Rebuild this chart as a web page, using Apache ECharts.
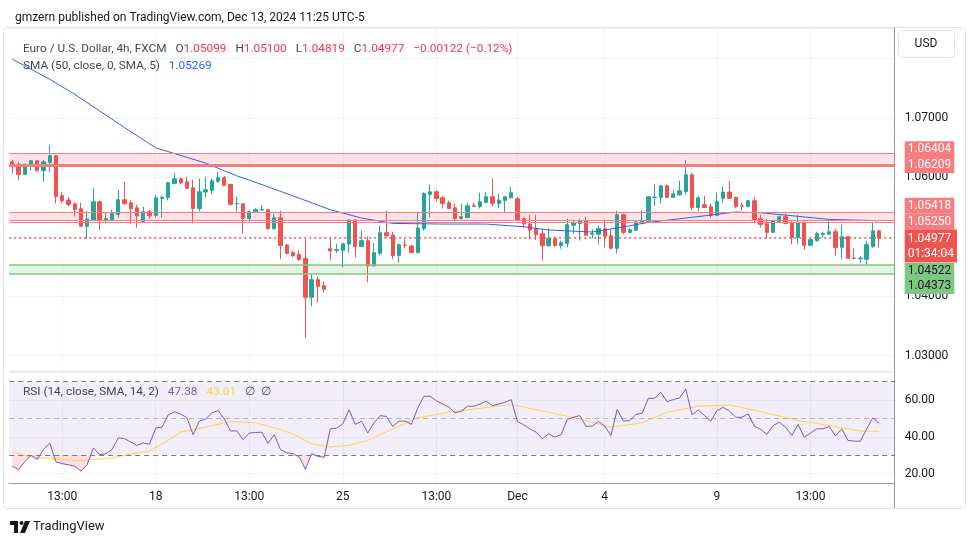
<!DOCTYPE html>
<html><head><meta charset="utf-8">
<script src="https://cdn.jsdelivr.net/npm/echarts@6/dist/echarts.min.js"></script>
<style>html,body{margin:0;padding:0;background:#fff}#c{width:970px;height:545px}</style>
</head><body><div id="c"></div>
<script>
// ---------- time categories (4h sessions, UTC-5) ----------
const FULL = [1,5,9,13,17,21], FRI = [1,5,9,13], SUN = [17,21];
const tradingDays = [
  ['Nov 12',[5,9,13,17,21]],['Nov 13',FULL],['Nov 14',FULL],['Nov 15',FRI],['Nov 17',SUN],
  ['Nov 18',FULL],['Nov 19',FULL],['Nov 20',FULL],['Nov 21',FULL],['Nov 22',FRI],['Nov 24',SUN],
  ['Nov 25',FULL],['Nov 26',FULL],['Nov 27',FULL],['Nov 28',FULL],['Nov 29',FRI],['Dec 1',SUN],
  ['Dec 2',FULL],['Dec 3',FULL],['Dec 4',FULL],['Dec 5',FULL],['Dec 6',FRI],['Dec 8',SUN],
  ['Dec 9',FULL],['Dec 10',FULL],['Dec 11',FULL],['Dec 12',FULL],['Dec 13',[1,5,9]]
];
const categories = [];
tradingDays.forEach(([d, hs]) => hs.forEach(h => categories.push(d + ' ' + String(h).padStart(2,'0') + ':00')));
categories.push(' ', '  ');

const tickIndex = [8,23,38,53,68,81,95,113,128];
const tickText  = ['13:00','18','13:00','25','13:00','Dec','4','9','13:00'];
const priceTickLabels = ['1.07000','1.06000','1.04000','1.03000'];
const rsiTickLabels = ['60.00','40.00','20.00'];

// ---------- OHLC ----------
const opens = [1.06260,1.06221,1.06048,1.06221,1.06277,1.06115,1.06249,1.06361,1.05689,1.05616,
1.05555,1.05471,1.05174,1.05286,1.05588,1.05280,1.05286,1.05375,1.05622,1.05571,
1.05487,1.05258,1.05420,1.05359,1.05644,1.05661,1.05897,1.05975,1.05924,1.05824,
1.05476,1.05751,1.05779,1.05930,1.05992,1.05880,1.05555,1.05555,1.05308,1.05420,
1.05448,1.05454,1.05135,1.05319,1.04860,1.04731,1.04703,1.04636,1.03980,1.04277,
1.04176,1.04798,1.04770,1.04770,1.04877,1.05280,1.04832,1.04933,1.04507,1.04720,
1.05067,1.05028,1.04681,1.04860,1.04843,1.04731,1.05135,1.05711,1.05756,1.05656,
1.05571,1.05487,1.05308,1.05325,1.05521,1.05510,1.05577,1.05672,1.05560,1.05611,
1.05655,1.05639,1.05303,1.05213,1.05129,1.05051,1.04849,1.04966,1.04849,1.04888,
1.05191,1.05224,1.05269,1.05040,1.05040,1.05135,1.05017,1.04804,1.05370,1.05073,
1.05107,1.05247,1.05252,1.05661,1.05661,1.05857,1.05661,1.05706,1.05762,1.06042,
1.05493,1.05538,1.05504,1.05359,1.05644,1.05751,1.05661,1.05521,1.05510,1.05605,
1.05303,1.05218,1.05073,1.05252,1.05336,1.05241,1.04989,1.05241,1.04854,1.04933,
1.05040,1.05040,1.05084,1.04821,1.05000,1.04641,1.04630,1.04619,1.04832,1.05099];
const highs = [1.06294,1.06261,1.06221,1.06294,1.06294,1.06294,1.06546,1.06378,1.05756,1.05672,
1.05577,1.05571,1.05437,1.05823,1.05605,1.05403,1.05454,1.05790,1.05924,1.05622,
1.05538,1.05504,1.05454,1.05706,1.05689,1.05924,1.06076,1.05992,1.06008,1.05958,
1.05975,1.06008,1.05975,1.06092,1.06025,1.05880,1.05672,1.05555,1.05442,1.05487,
1.05532,1.05454,1.05387,1.05437,1.04877,1.04765,1.04765,1.04961,1.04367,1.04328,
1.04244,1.04980,1.04877,1.04882,1.05297,1.05297,1.05101,1.05000,1.04899,1.05185,
1.05437,1.05084,1.04882,1.04961,1.04860,1.05403,1.05745,1.05880,1.05784,1.05689,
1.05605,1.05555,1.05555,1.05571,1.05571,1.05739,1.05756,1.05975,1.05723,1.05672,
1.05840,1.05672,1.05325,1.05370,1.05370,1.05135,1.05146,1.05000,1.04933,1.05303,
1.05286,1.05303,1.05336,1.05124,1.05185,1.05286,1.05118,1.05437,1.05387,1.05146,
1.05269,1.05448,1.05672,1.05891,1.05874,1.05874,1.05790,1.05941,1.06294,1.06076,
1.05689,1.05689,1.05555,1.05739,1.05840,1.05941,1.05678,1.05577,1.05622,1.05672,
1.05370,1.05303,1.05286,1.05353,1.05387,1.05269,1.05370,1.05269,1.04966,1.05084,
1.05084,1.05286,1.05135,1.05202,1.05000,1.04798,1.04670,1.04933,1.05252,1.05100];
const lows = [1.06065,1.05947,1.06048,1.06115,1.06093,1.05930,1.06098,1.05560,1.05560,1.05510,
1.05342,1.05174,1.04961,1.05286,1.05106,1.05224,1.05286,1.05319,1.05538,1.05218,
1.05151,1.05258,1.05303,1.05325,1.05325,1.05611,1.05880,1.05880,1.05813,1.05224,
1.05426,1.05661,1.05711,1.05908,1.05863,1.05527,1.05426,1.05056,1.05252,1.05420,
1.05442,1.05118,1.05118,1.04625,1.04703,1.04653,1.04597,1.03291,1.03829,1.03896,
1.04064,1.04597,1.04731,1.04485,1.04731,1.04653,1.04832,1.04233,1.04507,1.04686,
1.04983,1.04619,1.04563,1.04798,1.04731,1.04731,1.05101,1.05325,1.05594,1.05476,
1.05459,1.05275,1.05291,1.05308,1.05510,1.05476,1.05577,1.05510,1.05476,1.05409,
1.05655,1.05269,1.05146,1.04955,1.04944,1.04597,1.04832,1.04832,1.04798,1.04821,
1.05050,1.04933,1.05023,1.04972,1.04871,1.04821,1.04787,1.04720,1.05045,1.05056,
1.05107,1.05213,1.05230,1.05510,1.05560,1.05661,1.05661,1.05689,1.05706,1.05442,
1.05426,1.05493,1.05325,1.05359,1.05577,1.05644,1.05476,1.05442,1.05493,1.05224,
1.05157,1.04972,1.05073,1.05252,1.05207,1.04871,1.04871,1.04787,1.04854,1.04916,
1.04983,1.05040,1.04686,1.04619,1.04636,1.04619,1.04552,1.04519,1.04815,1.04819];
const closes = [1.06210,1.06048,1.06221,1.06277,1.06115,1.06260,1.06361,1.05678,1.05605,1.05543,
1.05459,1.05174,1.05297,1.05588,1.05280,1.05303,1.05387,1.05622,1.05555,1.05471,
1.05353,1.05420,1.05353,1.05656,1.05661,1.05908,1.05975,1.05908,1.05813,1.05476,
1.05756,1.05790,1.05941,1.05992,1.05863,1.05544,1.05560,1.05308,1.05420,1.05454,
1.05459,1.05135,1.05319,1.04849,1.04720,1.04681,1.04613,1.03980,1.04277,1.04165,
1.04115,1.04759,1.04782,1.04882,1.05280,1.04832,1.04933,1.04507,1.04731,1.05067,
1.05017,1.04681,1.04866,1.04854,1.04731,1.05146,1.05728,1.05756,1.05644,1.05560,
1.05476,1.05308,1.05336,1.05521,1.05510,1.05588,1.05672,1.05560,1.05616,1.05672,
1.05740,1.05291,1.05213,1.05112,1.05034,1.04849,1.04966,1.04849,1.04899,1.05202,
1.05241,1.05269,1.05023,1.05056,1.05135,1.05006,1.04804,1.05370,1.05073,1.05118,
1.05247,1.05269,1.05672,1.05666,1.05857,1.05661,1.05723,1.05773,1.06042,1.05493,
1.05655,1.05493,1.05359,1.05594,1.05751,1.05644,1.05510,1.05515,1.05605,1.05291,
1.05207,1.05073,1.05269,1.05336,1.05224,1.04989,1.05241,1.04854,1.04950,1.05051,
1.05056,1.05084,1.04821,1.05000,1.04636,1.04636,1.04641,1.04866,1.05099,1.04977];

// ---------- SMA(50) read points ----------
const smaIndex = [0,6,10,14,18,23,26,31,36,38,46,51,56,61,69,76,82,86,93,97,102,108,116,120,125,131,139];
const smaValue = [1.07990,1.07650,1.07398,1.07118,1.06837,1.06496,1.06400,1.06239,1.06025,1.05953,1.05650,1.05454,1.05314,1.05224,1.05213,1.05213,1.05168,1.05113,1.05079,1.05146,1.05240,1.05314,1.05415,1.05403,1.05353,1.05291,1.05269];

// ---------- RSI(14) ----------
const rsi = [24.1,22.3,26.5,30.0,27.8,33.2,36.7,26.4,25.5,24.8,
24.1,21.4,25.0,34.0,30.4,30.9,33.2,39.5,39.0,37.2,
35.4,36.7,36.1,44.8,45.3,52.0,53.6,52.5,50.4,41.2,
48.6,49.8,53.1,54.3,49.8,43.2,43.3,38.5,42.1,42.4,
42.6,36.5,41.2,33.2,31.4,30.9,29.1,22.4,30.9,29.5,
28.9,44.4,44.8,47.1,54.7,46.8,48.6,42.1,47.7,51.6,
51.1,45.7,48.6,48.6,46.8,55.6,62.1,62.1,59.7,57.9,
56.3,53.1,54.0,56.7,56.7,57.9,59.4,57.0,57.9,58.8,
60.3,48.4,46.6,44.4,42.6,39.0,41.7,39.9,41.2,49.5,
50.7,51.6,45.7,45.9,48.4,45.9,40.8,54.9,48.6,48.9,
52.2,52.9,61.0,61.0,64.2,59.2,60.3,61.2,66.0,52.0,
54.7,51.6,48.6,54.3,56.1,54.0,50.7,50.7,52.5,45.9,
44.1,41.4,46.2,48.0,45.3,40.8,46.8,39.9,42.1,44.4,
44.4,45.7,40.5,44.4,38.1,37.7,37.7,44.4,50.4,47.38];
const rsiMaIndex = [0,3,6,11,16,19,22,25,27,31,35,39,42,45,48,51,54,57,61,65,70,75,80,86,91,96,101,105,110,115,120,126,131,136,139];
const rsiMaValue = [31.8,29.1,28.2,27.1,28.6,30.7,32.3,38.1,42.6,45.3,48.4,47.7,45.0,41.7,36.3,34.5,35.4,38.1,44.4,50.4,53.4,55.6,57.6,53.4,49.8,45.3,47.7,53.4,56.7,57.4,53.8,48.9,46.2,43.2,43.01];

// ---------- drawn levels ----------
const zoneTop    = [1.06404, 1.06209];
const zoneMid    = [1.05418, 1.05280, 1.05250];
const zoneBottom = [1.04522, 1.04373];
const lastPrice  = 1.04977;
const countdown  = '01:34:04';

// ---------- build ----------
const last = closes.length - 1;
const candleData = opens.map((o, i) => [o, closes[i], lows[i], highs[i]]);
const change = closes[last] - closes[last - 1];
const pct = change / closes[last - 1] * 100;
const signed = (v, d) => (v < 0 ? '\u2212' : '+') + Math.abs(v).toFixed(d);
const RED = '#ef5350', GREEN = '#26a69a';
const font = "Roboto, 'Noto Sans', sans-serif";
const LS = 11.8;
const rs = (c) => ({fontSize: LS, color: c, fontFamily: font, fontWeight: 'normal'});

const tagBase = {show: true, position: 'end', distance: 10, fontSize: 12, fontFamily: font,
  padding: [2, 3, 1, 3], lineHeight: 13, overflow: 'none'};
const pinkTag = Object.assign({}, tagBase, {color: '#fff', backgroundColor: '#f77c80'});
const greenTag = Object.assign({}, tagBase, {color: '#131722', backgroundColor: '#81c784'});
const redLine = (w) => ({color: '#f77c80', width: w, type: 'solid'});
const greenLine = {color: '#81c784', width: 1.5, type: 'solid'};

const isTick = i => tickIndex.indexOf(i) >= 0;

const chart = echarts.init(document.getElementById('c'), null, {renderer: 'canvas'});
chart.setOption({
  animation: false,
  backgroundColor: '#ffffff',
  textStyle: {fontFamily: font},
  title: [
    {text: 'gmzern published on TradingView.com, Dec 13, 2024 11:25 UTC-5', left: 10, top: 7,
     textStyle: {fontSize: 12, fontWeight: 'normal', color: '#131722', fontFamily: font}},
    {text: '{n|Euro / U.S. Dollar, 4h, FXCM}  {n|O}{r|' + opens[last].toFixed(5) + '}  {n|H}{r|' + highs[last].toFixed(5) +
       '}  {n|L}{r|' + lows[last].toFixed(5) + '}  {n|C}{r|' + closes[last].toFixed(5) + '}  {r|' +
       signed(change, 5) + ' (' + signed(pct, 2) + '%)}',
     left: 18, top: 35,
     textStyle: {fontWeight: 'normal', rich: {n: rs('#434651'), r: rs('#f23645')}}},
    {text: '{n|SMA (50, close, 0, SMA, 5)}  {b|' + smaValue[smaValue.length - 1].toFixed(5) + '}', left: 18, top: 52,
     textStyle: {fontWeight: 'normal', rich: {n: rs('#434651'), b: rs('#2962ff')}}},
    {text: '{n|RSI (14, close, SMA, 14, 2)}  {p|' + rsi[last].toFixed(2) + '}  {y|' + rsiMaValue[rsiMaValue.length - 1].toFixed(2) + '}  {n|\u2205  \u2205}',
     left: 18, top: 378,
     textStyle: {fontWeight: 'normal', rich: {n: rs('#434651'), p: rs('#7e57c2'), y: rs('#fdd835')}}}
  ],
  graphic: [
    {type: 'rect', shape: {x: 3.5, y: 27.5, width: 962, height: 481, r: 4}, style: {fill: 'none', stroke: '#e0e3eb', lineWidth: 1}, z: -10},
    {type: 'rect', shape: {x: 898.5, y: 30.5, width: 56, height: 27, r: 4}, style: {fill: '#fff', stroke: '#e0e3eb', lineWidth: 1}, z: 10},
    {type: 'text', x: 926, y: 44, style: {text: 'USD', fill: '#131722', fontSize: 12, fontFamily: font, align: 'center', verticalAlign: 'middle'}, z: 11},
    {type: 'line', shape: {x1: 894.5, y1: 483, x2: 894.5, y2: 508}, style: {stroke: '#9598a1', lineWidth: 1}},
    // TradingView logo
    {type: 'rect', shape: {x: 10, y: 521, width: 8, height: 4}, style: {fill: '#131722'}},
    {type: 'rect', shape: {x: 14, y: 521, width: 4, height: 12}, style: {fill: '#131722'}},
    {type: 'circle', shape: {cx: 21.5, cy: 523, r: 2}, style: {fill: '#131722'}},
    {type: 'polygon', shape: {points: [[25, 521], [30, 521], [25, 533], [20, 533]]}, style: {fill: '#131722'}},
    {type: 'text', x: 33, y: 527, style: {text: 'TradingView', fill: '#131722', fontSize: 13, fontFamily: font, verticalAlign: 'middle'}}
  ],
  grid: [
    {left: 9.2, top: 28, width: 885.5, height: 343},
    {left: 9.2, top: 372, width: 885.5, height: 111}
  ],
  xAxis: [
    {type: 'category', gridIndex: 0, data: categories, boundaryGap: true,
     axisLine: {show: true, lineStyle: {color: '#e0e3eb'}}, axisTick: {show: false}, axisLabel: {show: false},
     splitLine: {show: true, interval: i => isTick(i), alignWithLabel: true, lineStyle: {color: '#f0f3fa', width: 1}}},
    {type: 'category', gridIndex: 1, data: categories, boundaryGap: true,
     axisLine: {show: true, lineStyle: {color: '#9598a1'}}, axisTick: {show: false},
     axisLabel: {show: true, interval: i => isTick(i), formatter: (v, i) => { const k = tickIndex.indexOf(i); return k >= 0 ? tickText[k] : ''; },
       color: '#131722', fontSize: 12, margin: 8, fontFamily: font},
     splitLine: {show: true, interval: i => isTick(i), alignWithLabel: true, lineStyle: {color: '#f0f3fa', width: 1}}}
  ],
  yAxis: [
    {type: 'value', gridIndex: 0, position: 'right', min: 1.027391, max: 1.085135, splitNumber: 5, scale: true,
     axisLine: {show: true, lineStyle: {color: '#9598a1'}}, axisTick: {show: false},
     axisLabel: {showMinLabel: false, showMaxLabel: false, margin: 10, color: '#131722', fontSize: 12, fontFamily: font,
       formatter: v => { const s = v.toFixed(5); return priceTickLabels.indexOf(s) >= 0 ? s : ''; }},
     splitLine: {show: true, lineStyle: {color: '#f0f3fa', width: 1}}},
    {type: 'value', gridIndex: 1, position: 'right', min: 14.95, max: 75.3, splitNumber: 3,
     axisLine: {show: true, lineStyle: {color: '#9598a1'}}, axisTick: {show: false},
     axisLabel: {showMinLabel: false, showMaxLabel: false, margin: 10, color: '#131722', fontSize: 12, fontFamily: font,
       formatter: v => { const s = v.toFixed(2); return rsiTickLabels.indexOf(s) >= 0 ? s : ''; }},
     splitLine: {show: true, lineStyle: {color: '#f0f3fa', width: 1}}}
  ],
  series: [
    // drawn zones + price line (behind candles)
    {type: 'line', xAxisIndex: 0, yAxisIndex: 0, data: [], z: 1, silent: true,
     markArea: {silent: true, itemStyle: {color: 'rgba(242,54,69,0.14)'}, data: [
       [{yAxis: zoneTop[0]}, {yAxis: zoneTop[1]}],
       [{yAxis: zoneMid[0]}, {yAxis: zoneMid[1]}],
       [{yAxis: zoneBottom[0], itemStyle: {color: 'rgba(76,175,80,0.15)'}}, {yAxis: zoneBottom[1]}]
     ]},
     markLine: {silent: true, precision: 5, symbol: ['none', 'none'], data: [
       {yAxis: zoneTop[0], lineStyle: redLine(1), label: Object.assign({}, pinkTag, {formatter: zoneTop[0].toFixed(5), offset: [0, -4]})},
       {yAxis: zoneTop[1], lineStyle: redLine(3), label: Object.assign({}, pinkTag, {formatter: zoneTop[1].toFixed(5), offset: [0, 0]})},
       {yAxis: zoneMid[0], lineStyle: redLine(1), label: Object.assign({}, pinkTag, {formatter: zoneMid[0].toFixed(5), offset: [0, -6]})},
       {yAxis: zoneMid[1], lineStyle: redLine(1), label: {show: false}},
       {yAxis: zoneMid[2], lineStyle: redLine(1), label: Object.assign({}, pinkTag, {formatter: zoneMid[2].toFixed(5), offset: [0, 0]})},
       {yAxis: zoneBottom[0], lineStyle: greenLine, label: Object.assign({}, greenTag, {formatter: zoneBottom[0].toFixed(5), offset: [0, 6]})},
       {yAxis: zoneBottom[1], lineStyle: greenLine, label: Object.assign({}, greenTag, {formatter: zoneBottom[1].toFixed(5), offset: [0, 12]})},
       {yAxis: lastPrice, lineStyle: {color: RED, width: 1.5, type: [2, 3]},
        label: Object.assign({}, tagBase, {color: '#fff', backgroundColor: RED, formatter: lastPrice.toFixed(5) + '\n' + countdown, offset: [0, 8], lineHeight: 15, padding: [2, 3, 1, 3]})}
     ]}},
    {type: 'candlestick', name: 'EURUSD', xAxisIndex: 0, yAxisIndex: 0, data: candleData, z: 3, barWidth: 3.8,
     itemStyle: {color: GREEN, color0: RED, borderColor: GREEN, borderColor0: RED, borderWidth: 1}},
    {type: 'line', name: 'SMA', xAxisIndex: 0, yAxisIndex: 0, z: 4, symbol: 'none', smooth: false,
     data: smaIndex.map((x, k) => [x, smaValue[k]]), lineStyle: {color: '#2962ff', width: 1}},
    // RSI pane
    {type: 'line', xAxisIndex: 1, yAxisIndex: 1, data: [], z: 1, silent: true,
     markArea: {silent: true, itemStyle: {color: 'rgba(126,87,194,0.1)'}, data: [[{yAxis: 30}, {yAxis: 70}]]},
     markLine: {silent: true, precision: 2, symbol: ['none', 'none'], label: {show: false}, data: [
       {yAxis: 70, lineStyle: {color: '#787b86', width: 1, type: [5, 4]}},
       {yAxis: 50, lineStyle: {color: '#b2b5be', width: 1, type: [5, 4]}},
       {yAxis: 30, lineStyle: {color: '#787b86', width: 1, type: [5, 4]}}
     ]}},
    {type: 'line', xAxisIndex: 1, yAxisIndex: 1, stack: 'os', z: 2, symbol: 'none', silent: true,
     data: rsi.map(v => Math.min(v, 30)), lineStyle: {opacity: 0}},
    {type: 'line', xAxisIndex: 1, yAxisIndex: 1, stack: 'os', z: 2, symbol: 'none', silent: true,
     data: rsi.map(v => 30 - Math.min(v, 30)), lineStyle: {opacity: 0},
     areaStyle: {color: 'rgba(242,54,69,0.22)', origin: 'auto'}},
    {type: 'line', name: 'RSI MA', xAxisIndex: 1, yAxisIndex: 1, z: 4, symbol: 'none',
     data: rsiMaIndex.map((x, k) => [x, rsiMaValue[k]]), lineStyle: {color: '#fdd835', width: 1}},
    {type: 'line', name: 'RSI', xAxisIndex: 1, yAxisIndex: 1, z: 5, symbol: 'none',
     data: rsi, lineStyle: {color: '#7e57c2', width: 1}}
  ]
});
</script>
</body></html>
